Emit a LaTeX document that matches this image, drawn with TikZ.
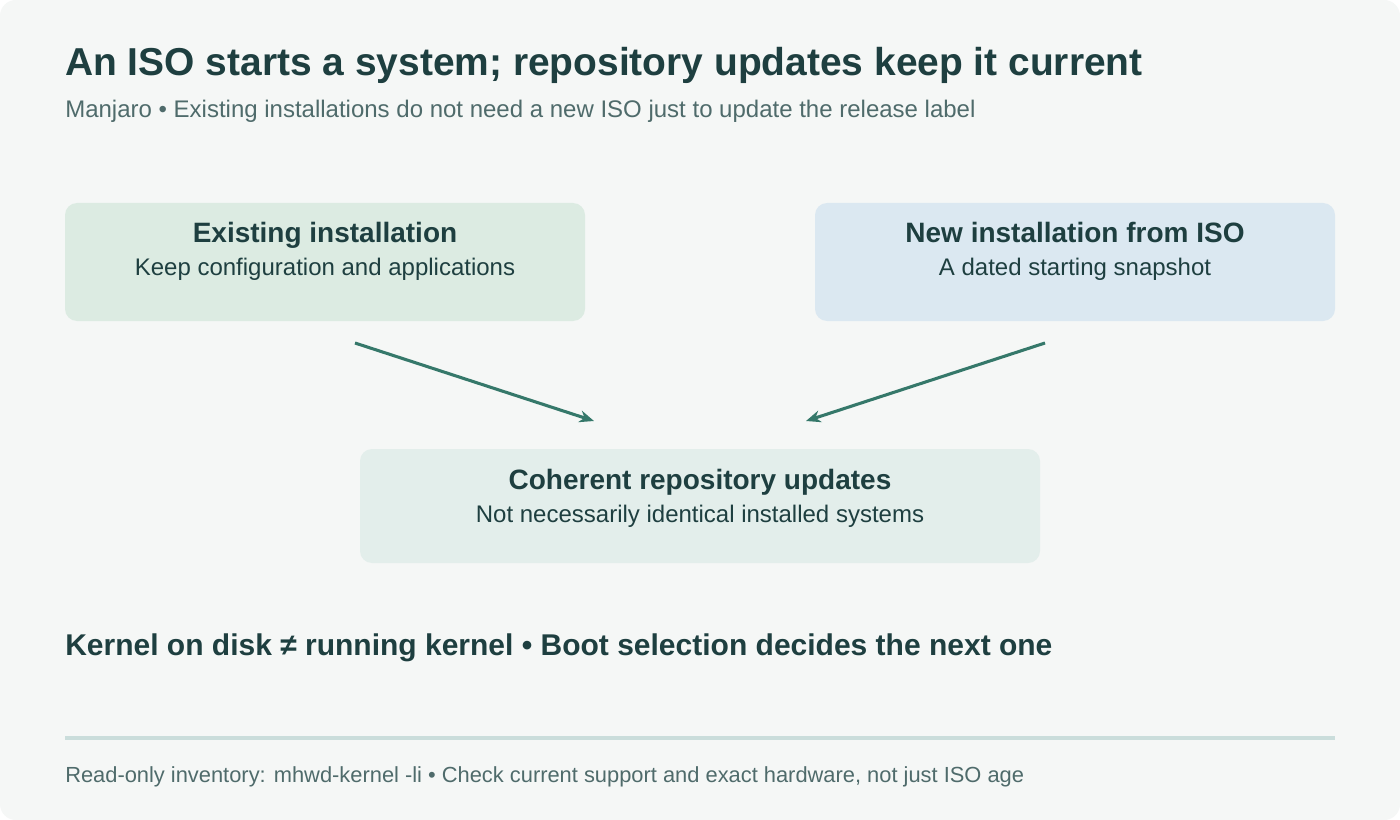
\documentclass[tikz,border=0pt]{standalone}
\usepackage{fontspec}
\setmainfont{Liberation Sans}
\usetikzlibrary{arrows.meta, positioning, calc}
\definecolor{inkteal}{HTML}{1E3F40}
\definecolor{subgray}{HTML}{4F6B6B}
\definecolor{pagebg}{HTML}{F5F7F6}
\definecolor{existgreen}{HTML}{DCEBE2}
\definecolor{isoblue}{HTML}{DBE8F1}
\definecolor{repomint}{HTML}{E3EEEB}
\definecolor{flowteal}{HTML}{35786A}
\definecolor{rulegray}{HTML}{CADDDB}

\begin{document}
\begin{tikzpicture}[x=0.75pt, y=-0.75pt,
    cardhead/.style={font=\fontsize{21}{25}\selectfont\bfseries, text=inkteal},
    cardsub/.style={font=\fontsize{18}{21}\selectfont, text=inkteal},
    flow/.style={draw=flowteal, line width=2.3pt, -{Stealth[length=11pt, width=9pt]}}]
    % Page
    \useasboundingbox (0,0) rectangle (1400,820);
    \fill[white] (0,0) rectangle (1400,820);
    \fill[pagebg, rounded corners=12pt] (0,0) rectangle (1400,820);

    % Heading
    \node[anchor=base west, inner sep=0pt, font=\fontsize{29.2}{33}\selectfont\bfseries, text=inkteal] (title) at (65,76) {An ISO starts a system; repository updates keep it current};
    \node[anchor=base west, inner sep=0pt, font=\fontsize{18}{21}\selectfont, text=subgray] (subtitle) at (65,118) {Manjaro • Existing installations do not need a new ISO just to update the release label};

    % Cards
    \fill[existgreen, rounded corners=9pt] (65,203) rectangle (585,321);
    \node[cardhead, anchor=base] (exist) at (325,243) {Existing installation};
    \node[cardsub, anchor=base] (existsub) at (325,276) {Keep configuration and applications};

    \fill[isoblue, rounded corners=9pt] (815,203) rectangle (1335,321);
    \node[cardhead, anchor=base] (iso) at (1075,243) {New installation from ISO};
    \node[cardsub, anchor=base] (isosub) at (1075,276) {A dated starting snapshot};

    \fill[repomint, rounded corners=9pt] (360,449) rectangle (1040,563);
    \node[cardhead, anchor=base] (repo) at (700,489) {Coherent repository updates};
    \node[cardsub, anchor=base] (reposub) at (700,522) {Not necessarily identical installed systems};

    % Connectors
    \coordinate (existout) at (355,343);
    \coordinate (repoinl) at (594,421);
    \coordinate (isoout) at (1045,343);
    \coordinate (repoinr) at (806,421);
    \draw[flow] (existout) -- (repoinl);
    \draw[flow] (isoout) -- (repoinr);

    % Kernel note
    \node[anchor=base west, inner sep=0pt, font=\fontsize{22.5}{27}\selectfont\bfseries, text=inkteal] (kernel) at (65,655) {Kernel on disk ≠ running kernel • Boot selection decides the next one};

    % Footer
    \draw[rulegray, line width=2.3pt] (65,738) -- (1335,738);
    \node[anchor=base west, inner sep=0pt, font=\fontsize{16.4}{19}\selectfont, text=subgray] (footer) at (65,782) {Read-only inventory: mhwd-kernel -li • Check current support and exact hardware, not just ISO age};
\end{tikzpicture}
\end{document}
